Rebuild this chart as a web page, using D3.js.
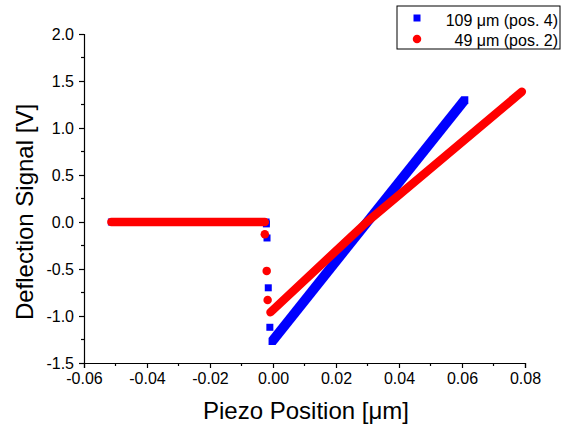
<!DOCTYPE html>
<html>
<head>
<meta charset="utf-8">
<script src="https://cdn.jsdelivr.net/npm/d3@7/dist/d3.min.js"></script>
<style>
  body { margin: 0; background: #fff; }
  text { font-family: "Liberation Sans", Arial, sans-serif; fill: #000; }
</style>
</head>
<body>
<svg id="chart" width="563" height="429"></svg>
<script>
// tick values
const xTicks = [-0.06, -0.04, -0.02, 0.00, 0.02, 0.04, 0.06, 0.08];
const yTicks = [-1.5, -1.0, -0.5, 0.0, 0.5, 1.0, 1.5, 2.0];
const xMinor = [-0.05, -0.03, -0.01, 0.01, 0.03, 0.05, 0.07];
const yMinor = [-1.25, -0.75, -0.25, 0.25, 0.75, 1.25, 1.75];

const seriesNames = ["109 \u03bcm (pos. 4)", "49 \u03bcm (pos. 2)"];

// dense runs of points (run ends + a bend)
const blueRuns = [
  [[-0.0513, 0.00], [-0.0022, 0.00]],
  [[-0.0003, -1.27], [0.0609, 1.30]]
];
const blueDrops = [[-0.0021, -0.02], [-0.0019, -0.17], [-0.0015, -0.70], [-0.0010, -1.12]];

const redRuns = [
  [[-0.0513, 0.00], [-0.0026, 0.00]],
  [[-0.0008, -0.96], [0.0298, 0.00], [0.0790, 1.386]]
];
const redDrops = [[-0.0026, -0.13], [-0.0020, -0.52], [-0.0017, -0.83]];

const blue = "#0000ff";
const red = "#ff0000";
const sq = 7;     // square marker side
const dot = 8.5;  // circle marker diameter

const svg = d3.select("#chart");

const x = d3.scaleLinear().domain([-0.06, 0.08]).range([84, 525]);
const y = d3.scaleLinear().domain([-1.5, 2.0]).range([363, 34]);

// axes
const xAxis = d3.axisBottom(x).tickValues(xTicks).tickSize(5).tickPadding(5);
const yAxis = d3.axisLeft(y).tickValues(yTicks).tickSize(5).tickPadding(5);

const gx = svg.append("g").attr("transform", `translate(0,${y(-1.5)})`).call(xAxis);
const gy = svg.append("g").attr("transform", `translate(${x(-0.06)},0)`).call(yAxis);

[gx, gy].forEach(g => {
  g.select(".domain").attr("stroke", "#000").attr("stroke-width", 1.2);
  g.selectAll(".tick line").attr("stroke", "#000").attr("stroke-width", 1.2);
  g.selectAll(".tick text").style("font-family", "Liberation Sans, Arial, sans-serif")
    .style("font-size", "16px").attr("fill", "#000");
});
gx.selectAll(".tick text").text(d => d3.format(".2f")(d).replace("\u2212", "-"));
gy.selectAll(".tick text").text(d => d3.format(".1f")(d).replace("\u2212", "-"));

svg.append("g").selectAll("line").data(xMinor).join("line")
  .attr("x1", d => x(d)).attr("x2", d => x(d))
  .attr("y1", y(-1.5)).attr("y2", y(-1.5) + 3)
  .attr("stroke", "#000").attr("stroke-width", 1.2);
svg.append("g").selectAll("line").data(yMinor).join("line")
  .attr("y1", d => y(d)).attr("y2", d => y(d))
  .attr("x1", x(-0.06)).attr("x2", x(-0.06) - 3)
  .attr("stroke", "#000").attr("stroke-width", 1.2);

// axis titles
svg.append("text")
  .attr("x", 306).attr("y", 419)
  .attr("text-anchor", "middle").style("font-size", "24px")
  .text("Piezo Position [\u03bcm]");
svg.append("text")
  .attr("transform", "translate(33,212) rotate(-90)")
  .attr("text-anchor", "middle").style("font-size", "24px")
  .text("Deflection Signal [V]");

// square runs: hull of the squares at each vertex of a run
const sqHull = run => {
  const pts = [];
  run.forEach(p => {
    const cx = x(p[0]), cy = y(p[1]), h = sq / 2;
    pts.push([cx - h, cy - h], [cx + h, cy - h], [cx + h, cy + h], [cx - h, cy + h]);
  });
  return d3.polygonHull(pts);
};

const plot = svg.append("g");

plot.selectAll(".brun").data(blueRuns).join("path")
  .attr("d", d => "M" + sqHull(d).join("L") + "Z")
  .attr("fill", blue);
plot.selectAll(".bdrop").data(blueDrops).join("rect")
  .attr("x", d => x(d[0]) - sq / 2).attr("y", d => y(d[1]) - sq / 2)
  .attr("width", sq).attr("height", sq).attr("fill", blue);

const line = d3.line().x(d => x(d[0])).y(d => y(d[1]));
plot.selectAll(".rrun").data(redRuns).join("path")
  .attr("d", line)
  .attr("fill", "none").attr("stroke", red)
  .attr("stroke-width", dot).attr("stroke-linecap", "round")
  .attr("stroke-linejoin", "round");
plot.selectAll(".rdrop").data(redDrops).join("circle")
  .attr("cx", d => x(d[0])).attr("cy", d => y(d[1]))
  .attr("r", dot / 2).attr("fill", red);

// legend
const lg = svg.append("g");
lg.append("rect").attr("x", 397).attr("y", 6).attr("width", 163).attr("height", 43)
  .attr("fill", "#fff").attr("stroke", "#000").attr("stroke-width", 1);
lg.append("rect").attr("x", 417 - sq / 2).attr("y", 18 - sq / 2)
  .attr("width", sq).attr("height", sq).attr("fill", blue);
lg.append("circle").attr("cx", 417).attr("cy", 39).attr("r", dot / 2).attr("fill", red);
lg.selectAll(".lt").data(seriesNames).join("text")
  .attr("x", 558).attr("y", (d, i) => 25.5 + i * 20)
  .attr("text-anchor", "end").style("font-size", "16px")
  .text(d => d);
</script>
</body>
</html>
